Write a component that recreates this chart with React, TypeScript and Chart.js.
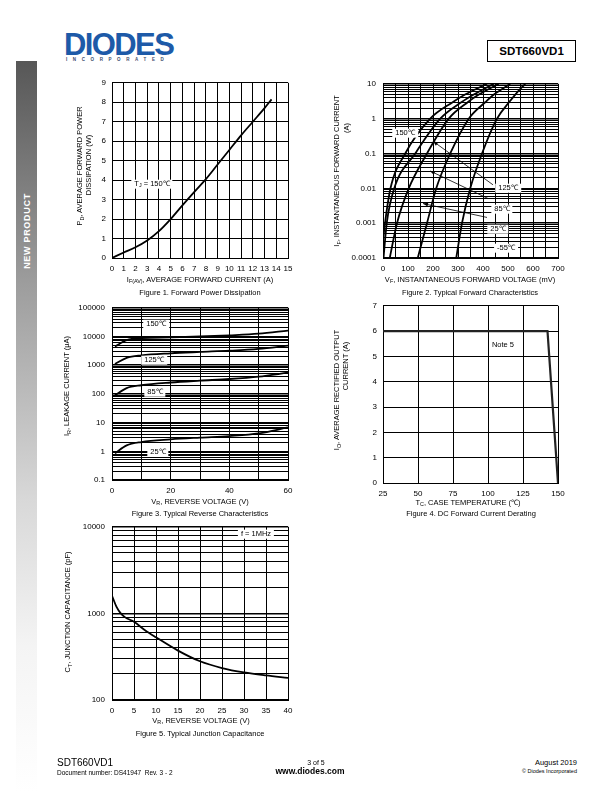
import React, { useEffect, useRef } from "react";
import { Chart, registerables } from "chart.js";
Chart.register(...registerables);

const FONT = '"Liberation Sans", Arial, Helvetica, sans-serif';

// ---------------- Figure 1: Forward Power Dissipation ----------------
const fig1Current = [0, 1, 2, 3, 4, 5, 6, 7, 8, 9, 10, 11, 12, 13, 13.6];
const fig1Power = [0, 0.28, 0.55, 0.9, 1.38, 2.0, 2.7, 3.38, 4.05, 4.8, 5.55, 6.3, 7.0, 7.7, 8.15];

// ---------------- Figure 2: Typical Forward Characteristics ----------------
const fig2Temps = ["150℃", "125℃", "85℃", "25℃", "-55℃"];
const fig2V150 = [0, 8, 30, 89, 189, 280, 330, 416];
const fig2I150 = [0.0003, 0.001, 0.01, 0.1, 1, 3, 5, 10];
const fig2V125 = [2, 15, 45, 129, 229, 315, 365, 443];
const fig2I125 = [0.0001, 0.001, 0.01, 0.1, 1, 3, 5, 10];
const fig2V85 = [27, 56, 103, 176, 263, 340, 385, 463];
const fig2I85 = [0.0001, 0.001, 0.01, 0.1, 1, 3, 5, 10];
const fig2V25 = [139, 176, 213, 269, 343, 410, 445, 509];
const fig2I25 = [0.0001, 0.001, 0.01, 0.1, 1, 3, 5, 10];
const fig2Vm55 = [293, 316, 349, 396, 456, 505, 530, 569];
const fig2Im55 = [0.0001, 0.001, 0.01, 0.1, 1, 3, 5, 10];
const fig2Decades = [0.0001, 0.001, 0.01, 0.1, 1, 10];
const fig2DecadeLabels = ["0.0001", "0.001", "0.01", "0.1", "1", "10"];
const fig2ArrowTailV = [440, 420, 416];
const fig2ArrowTailI = [0.0126, 0.0051, 0.00146];
const fig2ArrowHeadV = [200, 188, 160];
const fig2ArrowHeadI = [0.225, 0.0316, 0.00365];

// ---------------- Figure 3: Typical Reverse Characteristics ----------------
const fig3Voltage = [1, 5, 10, 20, 30, 40, 50, 60];
const fig3I150 = [4500, 7500, 8800, 9300, 10000, 11000, 12500, 16000];
const fig3I125 = [1100, 1800, 2200, 2600, 2900, 3200, 3700, 4800];
const fig3I85 = [90, 160, 200, 250, 290, 330, 400, 550];
const fig3I25 = [0.85, 1.6, 2.1, 2.6, 3.0, 3.4, 4.2, 6.8];
const fig3Decades = [0.1, 1, 10, 100, 1000, 10000, 100000];
const fig3DecadeLabels = ["0.1", "1", "10", "100", "1000", "10000", "100000"];

// ---------------- Figure 4: DC Forward Current Derating ----------------
const fig4Temp = [25, 142.5, 150];
const fig4Current = [6, 6, 0];

// ---------------- Figure 5: Typical Junction Capacitance ----------------
const fig5Voltage = [0, 1, 2, 3, 5, 7.5, 10, 15, 20, 25, 30, 35, 40];
const fig5Cap = [1600, 1200, 1000, 900, 800, 640, 530, 372, 280, 234, 208, 192, 180];
const fig5Decades = [100, 1000, 10000];
const fig5DecadeLabels = ["100", "1000", "10000"];

// ---------------- layout helpers ----------------
type Area = { l: number; t: number; r: number; b: number };
const YW = 44, PT = 10, PR = 18, XH = 20;

function lin(min: number, max: number, step: number, labelEvery: number) {
  return {
    type: "linear",
    min,
    max,
    grid: { color: "#000", lineWidth: 1, drawTicks: false },
    border: { color: "#000", width: 1 },
    ticks: {
      stepSize: step,
      autoSkip: false,
      maxRotation: 0,
      color: "#000",
      padding: 6,
      font: { family: FONT, size: 8 },
      callback: (v: number) => (Math.abs(Math.round((v - min) / labelEvery) * labelEvery - (v - min)) < 1e-6 ? String(v) : ""),
    },
  };
}

function logAxis(decades: number[], labels: string[]) {
  const vals: number[] = [];
  for (let i = 0; i < decades.length - 1; i++) {
    for (let k = 1; k < 10; k++) vals.push(k === 1 ? decades[i] : decades[i] * k);
  }
  vals.push(decades[decades.length - 1]);
  return {
    type: "logarithmic",
    min: decades[0],
    max: decades[decades.length - 1],
    grid: {
      color: "#000",
      drawTicks: false,
      lineWidth: (ctx: any) => (ctx.tick && decades.indexOf(ctx.tick.value) >= 0 ? 1.6 : 1),
    },
    border: { color: "#000", width: 1 },
    afterBuildTicks: (s: any) => {
      s.ticks = vals.map((v) => ({ value: v }));
    },
    ticks: {
      autoSkip: false,
      color: "#000",
      padding: 7,
      font: { family: FONT, size: 8 },
      callback: (v: number) => {
        const i = decades.indexOf(v);
        return i >= 0 ? labels[i] : "";
      },
    },
  };
}

function makeOptions(x: any, y: any) {
  return {
    responsive: false,
    maintainAspectRatio: false,
    animation: false,
    layout: { padding: { top: PT, right: PR, left: 0, bottom: 0 } },
    plugins: { legend: { display: false }, tooltip: { enabled: false } },
    elements: { point: { radius: 0 } },
    scales: {
      x: { ...x, afterFit: (s: any) => { s.height = XH; } },
      y: { ...y, afterFit: (s: any) => { s.width = YW; } },
    },
  };
}

function series(xs: number[], ys: number[], width = 1.8, color = "#000", mono = true) {
  return {
    data: xs.map((x, i) => ({ x, y: ys[i] })),
    borderColor: color,
    borderWidth: width,
    pointRadius: 0,
    fill: false,
    cubicInterpolationMode: mono ? "monotone" : "default",
    tension: 0,
  };
}

function Plot({ area, build }: { area: Area; build: () => any }) {
  const ref = useRef<HTMLCanvasElement>(null);
  useEffect(() => {
    const chart = new Chart(ref.current as HTMLCanvasElement, build());
    return () => chart.destroy();
  }, []);
  const w = YW + (area.r - area.l) + PR;
  const h = PT + (area.b - area.t) + XH;
  return (
    <canvas
      ref={ref}
      width={w}
      height={h}
      style={{ position: "absolute", left: area.l - YW, top: area.t - PT, width: w, height: h, display: "block" }}
    />
  );
}

const arrowPlugin = {
  id: "fig2arrows",
  afterDatasetsDraw(chart: any) {
    const ctx = chart.ctx;
    const xs = chart.scales.x, ys = chart.scales.y;
    ctx.save();
    ctx.strokeStyle = "#000";
    ctx.fillStyle = "#000";
    ctx.lineWidth = 0.8;
    for (let i = 0; i < fig2ArrowTailV.length; i++) {
      const x1 = xs.getPixelForValue(fig2ArrowTailV[i]);
      const y1 = ys.getPixelForValue(fig2ArrowTailI[i]);
      const x2 = xs.getPixelForValue(fig2ArrowHeadV[i]);
      const y2 = ys.getPixelForValue(fig2ArrowHeadI[i]);
      ctx.beginPath();
      ctx.moveTo(x1, y1);
      ctx.lineTo(x2, y2);
      ctx.stroke();
      const a = Math.atan2(y2 - y1, x2 - x1);
      const L = 5, W = 2;
      ctx.beginPath();
      ctx.moveTo(x2, y2);
      ctx.lineTo(x2 - L * Math.cos(a) + W * Math.sin(a), y2 - L * Math.sin(a) - W * Math.cos(a));
      ctx.lineTo(x2 - L * Math.cos(a) - W * Math.sin(a), y2 - L * Math.sin(a) + W * Math.cos(a));
      ctx.closePath();
      ctx.fill();
    }
    ctx.restore();
  },
};

// ---------------- chart builders ----------------
const fig1Area: Area = { l: 112, t: 82, r: 288, b: 258 };
const fig2Area: Area = { l: 383, t: 82, r: 558, b: 258 };
const fig3Area: Area = { l: 112, t: 306, r: 288, b: 480 };
const fig4Area: Area = { l: 383, t: 305, r: 558, b: 483 };
const fig5Area: Area = { l: 112, t: 525, r: 288, b: 700 };

const buildFig1 = () => ({
  type: "line",
  data: { datasets: [series(fig1Current, fig1Power)] },
  options: makeOptions(lin(0, 15, 1, 1), lin(0, 9, 1, 1)),
});

const buildFig2 = () => ({
  type: "line",
  data: {
    datasets: [
      series(fig2V150, fig2I150),
      series(fig2V125, fig2I125),
      series(fig2V85, fig2I85),
      series(fig2V25, fig2I25),
      series(fig2Vm55, fig2Im55),
    ],
  },
  options: makeOptions(lin(0, 700, 50, 100), logAxis(fig2Decades, fig2DecadeLabels)),
  plugins: [arrowPlugin],
});

const buildFig3 = () => ({
  type: "line",
  data: {
    datasets: [
      series(fig3Voltage, fig3I150),
      series(fig3Voltage, fig3I125),
      series(fig3Voltage, fig3I85),
      series(fig3Voltage, fig3I25),
    ],
  },
  options: makeOptions(lin(0, 60, 10, 20), logAxis(fig3Decades, fig3DecadeLabels)),
});

const buildFig4 = () => ({
  type: "line",
  data: { datasets: [series(fig4Temp, fig4Current, 2.2, "#222", false)] },
  options: makeOptions(lin(25, 150, 25, 25), lin(0, 7, 1, 1)),
});

const buildFig5 = () => ({
  type: "line",
  data: { datasets: [series(fig5Voltage, fig5Cap)] },
  options: makeOptions(lin(0, 40, 5, 5), logAxis(fig5Decades, fig5DecadeLabels)),
});

// ---------------- text helpers ----------------
function Txt(props: {
  x: number;
  y: number;
  size?: number;
  align?: "left" | "center" | "right";
  bold?: boolean;
  bg?: boolean;
  style?: any;
  children: any;
}) {
  const { x, y, size = 7.5, align = "center", bold = false, bg = false, style = {}, children } = props;
  const tx = align === "center" ? "-50%" : align === "right" ? "-100%" : "0";
  return (
    <div
      style={{
        position: "absolute",
        left: x,
        top: y,
        transform: `translate(${tx},-50%)`,
        fontFamily: FONT,
        fontSize: size,
        fontWeight: bold ? 700 : 400,
        lineHeight: 1.15,
        whiteSpace: "nowrap",
        background: bg ? "#fff" : "transparent",
        padding: bg ? "0 3px" : 0,
        color: "#000",
        ...style,
      }}
    >
      {children}
    </div>
  );
}

// Rotated (bottom-to-top) text centred on integer point (x, y) using a fixed box.
function VTxt(props: { x: number; y: number; size?: number; bold?: boolean; style?: any; children: any }) {
  const { x, y, size = 7.5, bold = false, style = {}, children } = props;
  const BW = 240, BH = 10;
  return (
    <div
      style={{
        position: "absolute",
        left: x - BW / 2,
        top: y - BH / 2,
        width: BW,
        height: BH,
        lineHeight: `${BH}px`,
        textAlign: "center",
        transform: "rotate(-90deg)",
        fontFamily: FONT,
        fontSize: size,
        fontWeight: bold ? 700 : 400,
        whiteSpace: "nowrap",
        color: "#000",
        ...style,
      }}
    >
      {children}
    </div>
  );
}

const Sub = ({ children }: { children: any }) => (
  <sub style={{ fontSize: "0.72em", verticalAlign: "-0.3em", lineHeight: 0 }}>{children}</sub>
);

export default function App() {
  return (
    <div
      style={{
        position: "absolute",
        left: 0,
        top: 0,
        width: 612,
        height: 792,
        background: "#fff",
        overflow: "hidden",
        fontFamily: FONT,
      }}
    >
      {/* header */}
      <div
        style={{
          position: "absolute",
          left: 64,
          top: 29,
          fontFamily: FONT,
          fontWeight: 700,
          fontSize: 31,
          lineHeight: "31px",
          letterSpacing: -1.6,
          color: "#1d5aa8",
        }}
      >
        DIODES
      </div>
      <div
        style={{
          position: "absolute",
          left: 66,
          top: 57,
          fontFamily: FONT,
          fontWeight: 700,
          fontSize: 4.5,
          lineHeight: "5px",
          letterSpacing: 5.6,
          color: "#3a4a6a",
        }}
      >
        INCORPORATED
      </div>
      <div
        style={{
          position: "absolute",
          left: 487,
          top: 40,
          width: 87,
          height: 20,
          border: "1px solid #000",
          fontFamily: FONT,
          fontWeight: 700,
          fontSize: 11.5,
          lineHeight: "20px",
          textAlign: "center",
        }}
      >
        SDT660VD1
      </div>

      {/* side bar */}
      <div
        style={{
          position: "absolute",
          left: 16,
          top: 61,
          width: 21,
          height: 731,
          background: "linear-gradient(to bottom, #575757 0%, #9c9c9c 30%, #d8d8d8 60%, #f4f4f4 80%, #ffffff 100%)",
        }}
      />
      <VTxt x={27} y={231} size={9} bold style={{ color: "#fff", letterSpacing: 0.7 }}>
        NEW PRODUCT
      </VTxt>

      {/* charts */}
      <Plot area={fig1Area} build={buildFig1} />
      <Plot area={fig2Area} build={buildFig2} />
      <Plot area={fig3Area} build={buildFig3} />
      <Plot area={fig4Area} build={buildFig4} />
      <Plot area={fig5Area} build={buildFig5} />

      {/* Figure 1 text */}
      <VTxt x={80} y={166}>
        P<Sub>D</Sub>, AVERAGE FORWARD POWER
      </VTxt>
      <VTxt x={89} y={165}>
        DISSIPATION (W)
      </VTxt>
      <Txt x={200} y={280}>
        I<Sub>F(AV)</Sub>, AVERAGE FORWARD CURRENT (A)
      </Txt>
      <Txt x={200} y={293}>Figure 1. Forward Power Dissipation</Txt>
      <Txt x={152} y={184} bg>
        T<Sub>J</Sub> = 150℃
      </Txt>

      {/* Figure 2 text */}
      <VTxt x={337} y={171}>
        I<Sub>F</Sub>, INSTANTANEOUS FORWARD CURRENT
      </VTxt>
      <VTxt x={347} y={128}>
        (A)
      </VTxt>
      <Txt x={470} y={280}>
        V<Sub>F</Sub>, INSTANTANEOUS FORWARD VOLTAGE (mV)
      </Txt>
      <Txt x={470} y={293}>Figure 2. Typical Forward Characteristics</Txt>
      <Txt x={405} y={133} bg>{fig2Temps[0]}</Txt>
      <Txt x={508} y={188} bg>{fig2Temps[1]}</Txt>
      <Txt x={502} y={209} bg>{fig2Temps[2]}</Txt>
      <Txt x={498} y={229} bg>{fig2Temps[3]}</Txt>
      <Txt x={506} y={248} bg>{fig2Temps[4]}</Txt>

      {/* Figure 3 text */}
      <VTxt x={67} y={386}>
        I<Sub>R</Sub>, LEAKAGE CURRENT (μA)
      </VTxt>
      <Txt x={200} y={502}>
        V<Sub>R</Sub>, REVERSE VOLTAGE (V)
      </Txt>
      <Txt x={200} y={514}>Figure 3. Typical Reverse Characteristics</Txt>
      <Txt x={156} y={324} bg>150℃</Txt>
      <Txt x={154} y={360} bg>125℃</Txt>
      <Txt x={155} y={392} bg>85℃</Txt>
      <Txt x={158} y={452} bg>25℃</Txt>

      {/* Figure 4 text */}
      <VTxt x={337} y={390}>
        I<Sub>O</Sub>, AVERAGE RECTIFIED OUTPUT
      </VTxt>
      <VTxt x={346} y={366}>
        CURRENT (A)
      </VTxt>
      <Txt x={468} y={503}>
        T<Sub>C</Sub>, CASE TEMPERATURE (℃)
      </Txt>
      <Txt x={471} y={514}>Figure 4. DC Forward Current Derating</Txt>
      <Txt x={503} y={345}>Note 5</Txt>

      {/* Figure 5 text */}
      <VTxt x={68} y={612}>
        C<Sub>T</Sub>, JUNCTION CAPACITANCE (pF)
      </VTxt>
      <Txt x={201} y={721}>
        V<Sub>R</Sub>, REVERSE VOLTAGE (V)
      </Txt>
      <Txt x={200} y={734}>Figure 5. Typical Junction Capacitance</Txt>
      <Txt x={256} y={534} bg>f = 1MHz</Txt>

      {/* footer */}
      <Txt x={57} y={763} align="left" size={10}>SDT660VD1</Txt>
      <Txt x={57} y={773} align="left" size={6.5}>Document number: DS41947&nbsp; Rev. 3 - 2</Txt>
      <Txt x={316} y={763} size={7}>3 of 5</Txt>
      <Txt x={310} y={772} size={8.5} bold>www.diodes.com</Txt>
      <Txt x={577} y={763} align="right" size={7.5}>August 2019</Txt>
      <Txt x={577} y={771} align="right" size={5.5}>© Diodes Incorporated</Txt>
    </div>
  );
}
